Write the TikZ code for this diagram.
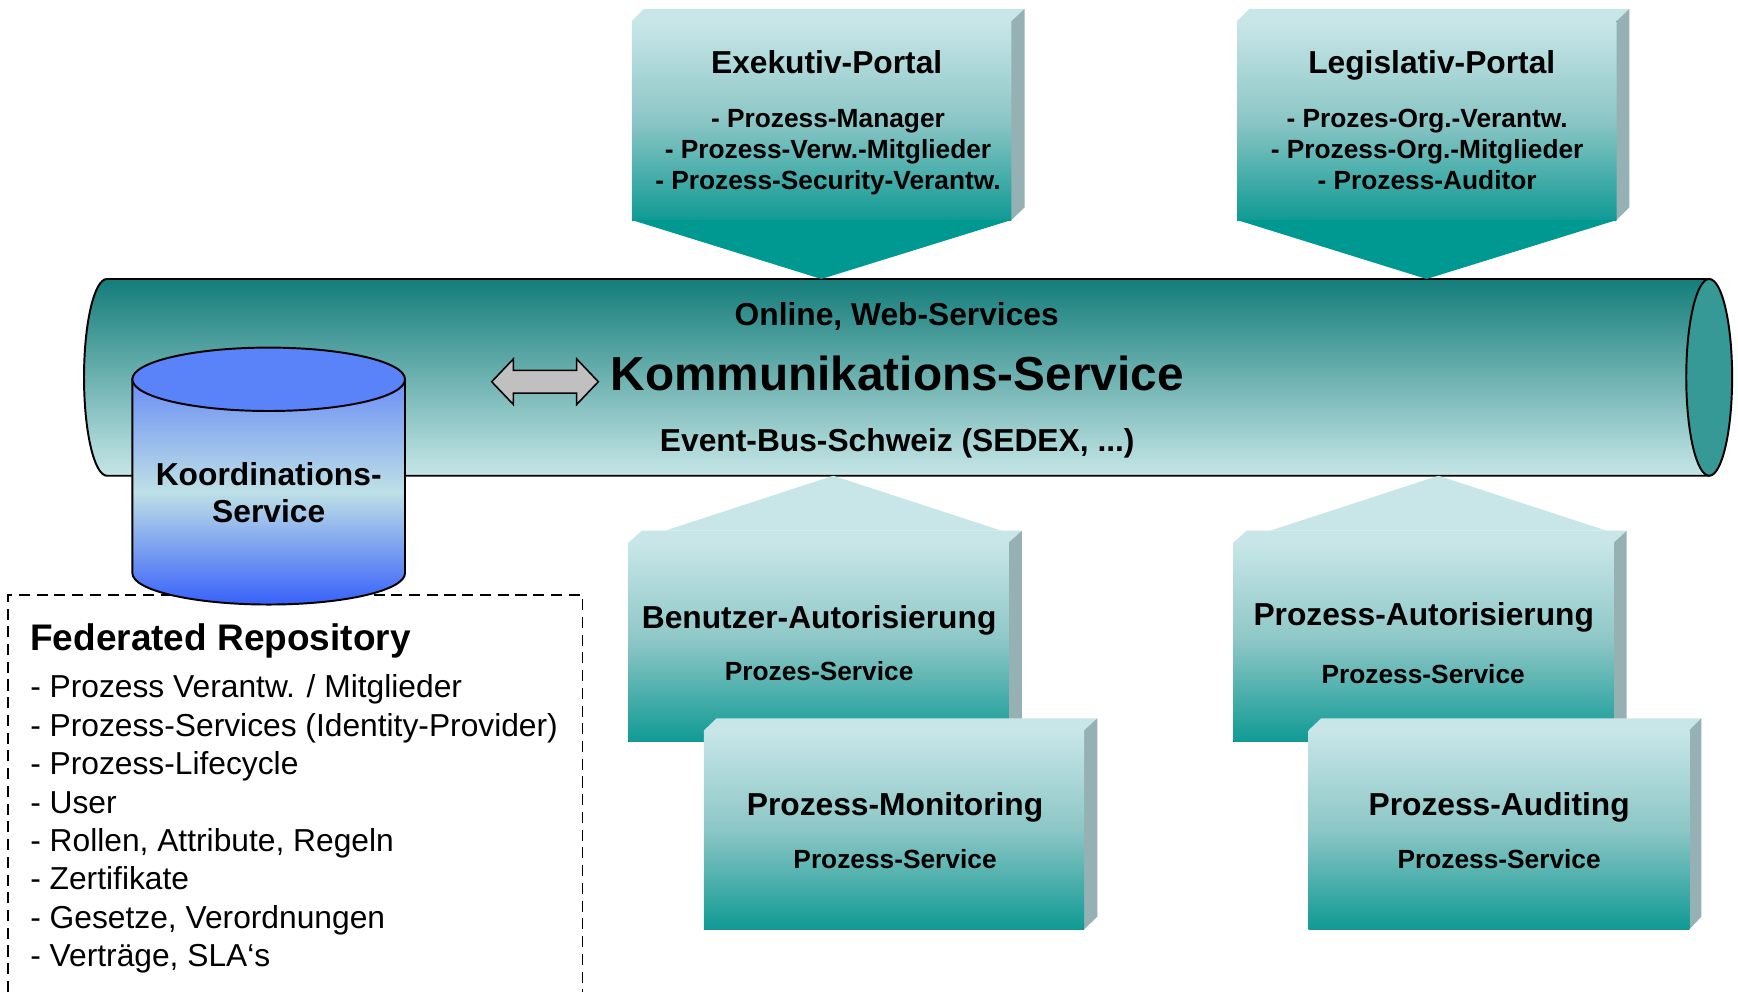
\documentclass[tikz,border=0pt]{standalone}
\usepackage{fontspec}
\setmainfont{Liberation Sans}

\definecolor{tubetop}{RGB}{20,125,122}
\definecolor{tubebot}{RGB}{198,230,231}
\definecolor{tubeend}{RGB}{54,153,150}
\definecolor{boxtop}{RGB}{200,230,232}
\definecolor{boxmid}{RGB}{140,198,198}
\definecolor{boxbot}{RGB}{16,154,148}
\definecolor{boxside}{RGB}{149,177,179}
\definecolor{portalteal}{RGB}{0,153,145}
\definecolor{cyltop}{RGB}{90,131,250}
\definecolor{cylupper}{RGB}{106,142,245}
\definecolor{cylmid}{RGB}{190,224,230}
\definecolor{cylbot}{RGB}{55,96,250}
\definecolor{arrowgray}{RGB}{192,192,192}

\tikzset{
  face/.style={top color=boxtop, bottom color=boxbot, middle color=boxmid},
  outline/.style={draw=black, line width=1pt},
  ttl/.style={font=\fontsize{16.3}{19}\selectfont\bfseries, anchor=base, align=center},
  roles/.style={font=\fontsize{13.5}{16}\selectfont\bfseries, anchor=base, align=center},
  svc/.style={font=\fontsize{13.5}{16}\selectfont\bfseries, anchor=base},
  bus/.style={font=\fontsize{16.3}{19}\selectfont\bfseries, anchor=base},
}

\begin{document}
\begin{tikzpicture}[x=0.2mm, y=-0.2mm]
    \useasboundingbox (0,0) rectangle (1568,895);

    % Kommunikations-Service tube
    \draw[outline, top color=tubetop, bottom color=tubebot]
      (96.5,251.7) -- (1542,251.7) -- (1542,429.2) -- (96.5,429.2)
      arc[start angle=90, end angle=270, x radius=20.7, y radius=88.75] -- cycle;
    \draw[outline, fill=tubeend] (1542,340.45) ellipse [x radius=20.7, y radius=88.75];

    \draw[line width=0.8pt, fill=arrowgray] (443.6,344.4)
      -- ++(19.6,-20.6) -- ++(0,10.4) -- ++(57,0) -- ++(0,-10.4)
      -- ++(19.6,20.6) -- ++(-19.6,20.6) -- ++(0,-10.4) -- ++(-57,0)
      -- ++(0,10.4) -- cycle;

    \node[bus] (online) at (809,294) {Online, Web-Services};
    \node[font=\fontsize{24.5}{29}\selectfont\bfseries, anchor=base] (komm) at (809.5,352) {Kommunikations-Service};
    \node[bus] (eventbus) at (809.5,407) {Event-Bus-Schweiz (SEDEX, ...)};

    % portals
    \fill[face] (570,19) rectangle (912.5,198.5);
    \fill[boxtop] (570,19) -- ++(11,-11) -- (924.5,8) -- (912.5,19) -- cycle;
    \fill[boxside] (912.5,19) -- (924.5,8) -- ++(0,179) -- (912.5,198.5) -- cycle;
    \fill[portalteal] (570,198.5) -- (741,251.7) -- (912.5,198.5) -- cycle;
    \node[ttl] (exe) at (745.8,66) {Exekutiv-Portal};
    \node[roles] (exeroles) at (747,171.4) {- Prozess-Manager\\- Prozess-Verw.-Mitglieder\\- Prozess-Security-Verantw.};

    \fill[face] (1116,19) rectangle (1458.5,198.5);
    \fill[boxtop] (1116,19) -- ++(11,-11) -- (1470,8) -- (1458.5,19) -- cycle;
    \fill[boxside] (1458.5,19) -- (1470,8) -- ++(0,179) -- (1458.5,198.5) -- cycle;
    \fill[portalteal] (1116,198.5) -- (1287,251.7) -- (1458.5,198.5) -- cycle;
    \node[ttl] (leg) at (1291.7,66) {Legislativ-Portal};
    \node[roles] (legroles) at (1287.5,171.4) {- Prozes-Org.-Verantw.\\- Prozess-Org.-Mitglieder\\- Prozess-Auditor};

    % services below the bus
    \fill[boxtop] (600,478.8) -- (751.7,429.2) -- (903.7,478.8) -- cycle;
    \fill[boxtop] (567,489.6) -- (579,478.8) -- (922,478.8) -- (910,489.6) -- cycle;
    \fill[boxside] (910,489.6) -- (922,478.8) -- (922,658) -- (910,669) -- cycle;
    \fill[face] (567,489.6) rectangle (910,669);
    \node[ttl] (benutzer) at (739,566.9) {Benutzer-Autorisierung};
    \node[svc] (benutzersvc) at (739,613.5) {Prozes-Service};

    \fill[boxtop] (635,659) -- (646.6,648) -- (990,648) -- (978,659) -- cycle;
    \fill[boxside] (978,659) -- (990,648) -- (990,827) -- (978,838.5) -- cycle;
    \fill[face] (635,659) rectangle (978,838.5);
    \node[ttl] (monitoring) at (807.5,735.3) {Prozess-Monitoring};
    \node[svc] (monitoringsvc) at (807.5,783.4) {Prozess-Service};

    \fill[boxtop] (1145.8,478.8) -- (1297.7,429.2) -- (1449.5,478.8) -- cycle;
    \fill[boxtop] (1112.7,489.6) -- (1124.8,478.8) -- (1467.6,478.8) -- (1456,489.6) -- cycle;
    \fill[boxside] (1456,489.6) -- (1467.6,478.8) -- (1467.6,658) -- (1456,669) -- cycle;
    \fill[face] (1112.7,489.6) rectangle (1456,669);
    \node[ttl] (prozautor) at (1284.5,564.5) {Prozess-Autorisierung};
    \node[svc] (prozautorsvc) at (1284,616.5) {Prozess-Service};

    \fill[boxtop] (1180.4,659) -- (1192,648) -- (1535,648) -- (1524,659) -- cycle;
    \fill[boxside] (1524,659) -- (1535,648) -- (1535,827) -- (1524,838.5) -- cycle;
    \fill[face] (1180.4,659) rectangle (1524,838.5);
    \node[ttl] (auditing) at (1352.5,735.3) {Prozess-Auditing};
    \node[svc] (auditingsvc) at (1352.5,783.4) {Prozess-Service};

    % repository
    \draw[line width=1pt, dash pattern=on 2mm off 1.2mm] (7,895) -- (7,537) -- (525.5,537) -- (525.5,895);
    \node[font=\fontsize{19}{23}\selectfont\bfseries, anchor=base west, inner sep=0pt] (repo) at (27,587) {Federated Repository};
    \node[font=\fontsize{16.3}{19.7}\selectfont, anchor=base west, align=left, inner sep=0pt] (repoitems) at (27,872)
      {- Prozess Verantw. / Mitglieder\\- Prozess-Services (Identity-Provider)\\- Prozess-Lifecycle\\- User\\- Rollen, Attribute, Regeln\\- Zertifikate\\- Gesetze, Verordnungen\\- Verträge, SLA‘s};

    % Koordinations-Service
    \draw[outline, top color=cylupper, bottom color=cylbot, middle color=cylmid]
      (119.4,342.2) -- (119.4,517)
      arc[start angle=180, end angle=0, x radius=123, y radius=28.4] -- (365.4,342.2) -- cycle;
    \draw[outline, fill=cyltop] (242.4,342.2) ellipse [x radius=123, y radius=28.6];
    \node[ttl] (koord) at (242.4,471) {Koordinations-\\Service};
  \end{tikzpicture}
\end{document}
